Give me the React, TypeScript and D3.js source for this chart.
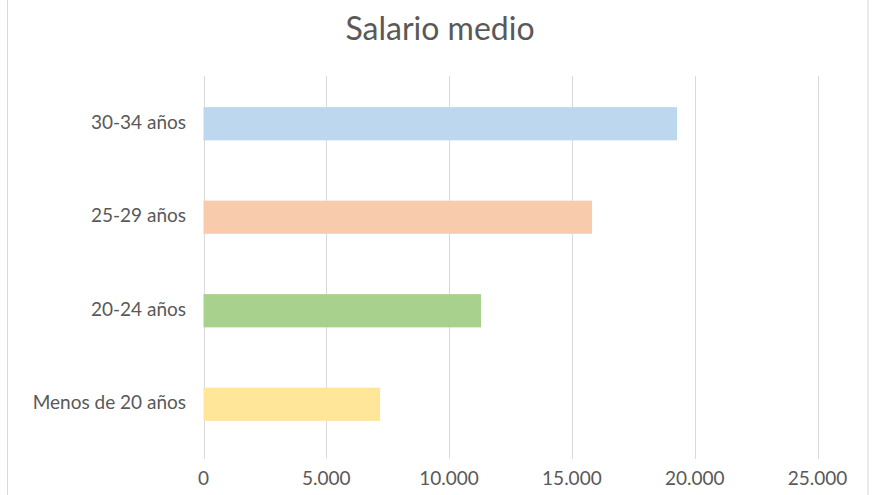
import React from "react";
import * as d3 from "d3";

const categories = ["30-34 años", "25-29 años", "20-24 años", "Menos de 20 años"];
const values = [19280, 15820, 11300, 7190];
const colors = ["#BDD7EE", "#F8CBAD", "#A9D18E", "#FFE699"];
const tickValues = [0, 5000, 10000, 15000, 20000, 25000];
const title = "Salario medio";

const W = 880;
const H = 495;

export default function App() {
  const x = d3.scaleLinear().domain([0, 25000]).range([203.5, 817.5]);
  const y = d3.scaleBand<string>().domain(categories).range([77, 451]).paddingInner(0.645).paddingOuter(0.3225);
  const fmt = (v: number) => d3.format(",")(v).replace(/,/g, ".");
  const font = "Lato, 'Open Sans', sans-serif";
  return (
    <div style={{ position: "absolute", left: 0, top: 0 }}>
      <svg width={W} height={H} style={{ display: "block", background: "#fff" }}>
        <rect x={7.5} y={-1} width={860.5} height={H + 2} fill="#fff" stroke="#d9d9d9" strokeWidth={1} />
        <text x={440} y={40} textAnchor="middle" fontFamily={font} fontSize={32} fill="#595959">
          {title}
        </text>
        {tickValues.map((t) => (
          <line key={"g" + t} x1={Math.round(x(t)) + 0.5} x2={Math.round(x(t)) + 0.5} y1={76} y2={459} stroke="#d9d9d9" strokeWidth={1} />
        ))}
        {categories.map((c, i) => (
          <rect key={c} x={x(0)} y={y(c)} width={x(values[i]) - x(0)} height={y.bandwidth()} fill={colors[i]} />
        ))}
        {categories.map((c) => (
          <text key={"l" + c} x={186} y={(y(c) ?? 0) + y.bandwidth() / 2 + 5} textAnchor="end" fontFamily={font} fontSize={19} fill="#595959">
            {c}
          </text>
        ))}
        {tickValues.map((t) => (
          <text key={"t" + t} x={x(t)} y={485} textAnchor="middle" fontFamily={font} fontSize={19} fill="#595959">
            {fmt(t)}
          </text>
        ))}
      </svg>
    </div>
  );
}
